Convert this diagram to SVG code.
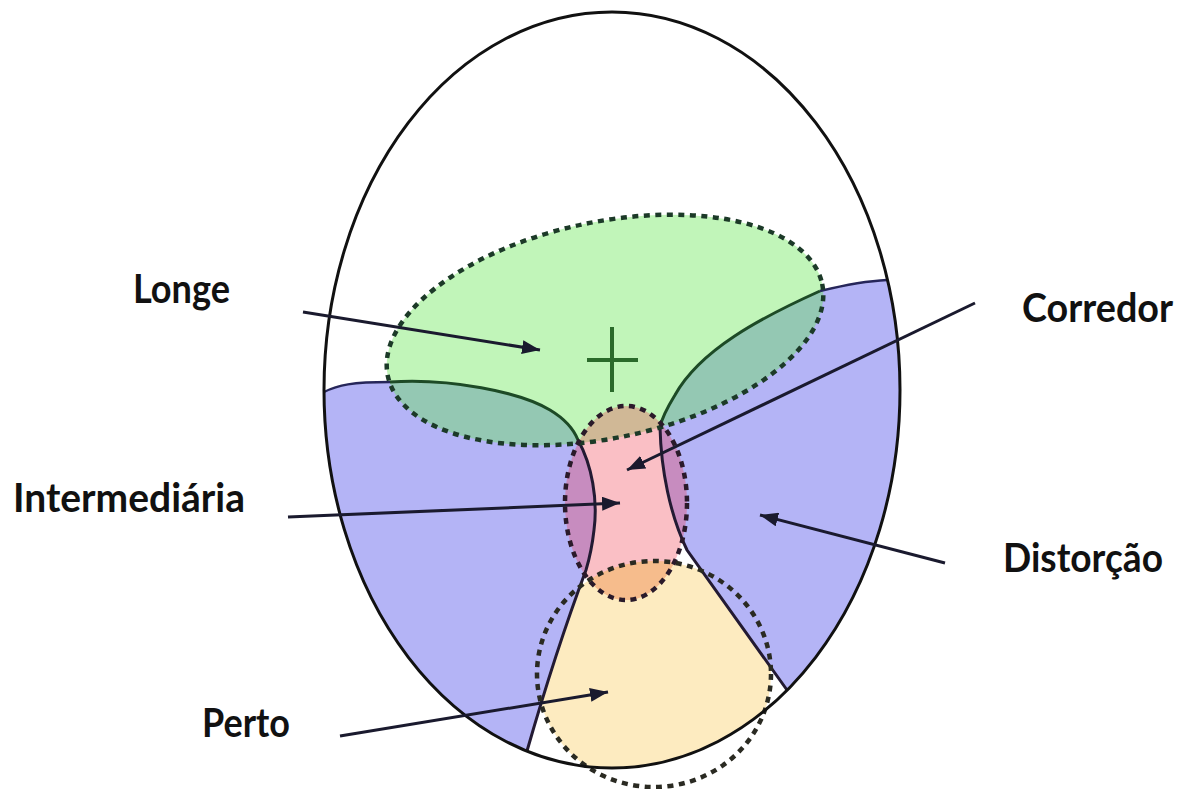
<svg xmlns="http://www.w3.org/2000/svg" width="1183" height="789" viewBox="0 0 1183 789">
<style>
.blue{fill:#b4b4f6}
.green{fill:#64e650;fill-opacity:0.4}
.pink{fill:#f03c50;fill-opacity:0.33}
.yellow{fill:#fdebc0}
.orange{fill:#f6bc8c}
.edge{fill:none;stroke:#26265a;stroke-width:2.5}
.gcurve{fill:none;stroke:#1d4a26;stroke-width:3}
.cline{fill:none;stroke:#231a33;stroke-width:3}
.dash{fill:none;stroke-width:4.5;stroke-dasharray:6 5.5}
.outer{fill:none;stroke:#111;stroke-width:3}
.arrow{fill:none;stroke:#1a1a2e;stroke-width:3;marker-end:url(#ah)}
.lbl{font-family:Lato,"Liberation Sans",sans-serif;font-weight:bold;font-size:40px;fill:#111}
</style>
<defs>
<marker id="ah" markerUnits="userSpaceOnUse" markerWidth="20" markerHeight="14" refX="18" refY="7" orient="auto">
<path d="M0,0 L18,7 L0,14 Z" fill="#1a1a2e"/>
</marker>
<clipPath id="midclip">
<path d="M595,540 L592,548 L586,570 Q556,650 527,751 A288 378 0 0 0 787,690 L687,550 L684,540 Z"/>
</clipPath>
<clipPath id="circclip">
<ellipse cx="654" cy="674" rx="117" ry="113"/>
</clipPath>
</defs>
<rect width="1183" height="789" fill="#fff"/>
<g id="fills">
<ellipse cx="612" cy="390" rx="288" ry="378" fill="#fff"/>
<g id="distorcao">
<path class="blue" d="M324,392 C338,385 352,382 390,382 C450,378 520,392 550,410 C565,419 574,430 578,440 C592,465 598,500 594,530 C592,548 589,560 586,570 Q556,650 527,751 A288 378 0 0 1 324,392 Z"/>
<path class="blue" d="M887,280 C865,281 845,285 820,291 C760,318 700,350 675,395 C667,408 662,418 660,427 C661,470 670,515 687,550 L787,690 A288 378 0 0 0 887,280 Z"/>
</g>
<g id="perto">
<ellipse class="yellow" cx="654" cy="674" rx="117" ry="113" clip-path="url(#midclip)"/>
</g>
<g id="longe">
<ellipse class="green" cx="605" cy="330" rx="222" ry="108" transform="rotate(-12 605 330)"/>
</g>
<g id="corredor">
<ellipse class="pink" cx="626" cy="503" rx="61" ry="97"/>
<g clip-path="url(#midclip)">
<ellipse class="orange" cx="626" cy="503" rx="61" ry="97" clip-path="url(#circclip)"/>
</g>
</g>
</g>
<g id="boundaries">
<path class="edge" d="M324,392 C338,385 352,382 390,382"/>
<path class="edge" d="M887,280 C865,281 845,285 820,291"/>
<path class="gcurve" d="M390,382 C450,378 520,392 550,410 C565,419 574,430 578,440"/>
<path class="gcurve" d="M820,291 C760,318 700,350 675,395 C667,408 662,418 660,427"/>
<path class="cline" d="M578,440 C592,465 598,500 594,530 C592,548 589,560 586,570 Q556,650 527,751"/>
<path class="cline" d="M660,427 C661,470 670,515 687,550 L787,690"/>
</g>
<g id="dashed">
<ellipse class="dash" stroke="#1c3a28" cx="605" cy="330" rx="222" ry="108" transform="rotate(-12 605 330)"/>
<ellipse class="dash" stroke="#2a1a2a" cx="626" cy="503" rx="61" ry="97"/>
<ellipse class="dash" stroke="#2a2a22" cx="654" cy="674" rx="117" ry="113"/>
</g>
<g id="lens">
<ellipse class="outer" cx="612" cy="390" rx="288" ry="378"/>
</g>
<g id="center-mark" stroke="#2a6a2a" stroke-width="4">
<line x1="612" y1="327" x2="612" y2="392"/>
<line x1="587" y1="360" x2="638" y2="360"/>
</g>
<g id="connectors">
<line class="arrow" x1="303" y1="312" x2="540" y2="350"/>
<line class="arrow" x1="288" y1="517" x2="620" y2="503"/>
<line class="arrow" x1="975" y1="303" x2="627" y2="470"/>
<line class="arrow" x1="945" y1="563" x2="760" y2="515"/>
<line class="arrow" x1="340" y1="736" x2="608" y2="692"/>
</g>
<g id="labels">
<text class="lbl" x="133" y="303" textLength="97" lengthAdjust="spacingAndGlyphs">Longe</text>
<text class="lbl" x="13" y="512" textLength="232" lengthAdjust="spacingAndGlyphs">Intermediária</text>
<text class="lbl" x="202" y="737" textLength="88" lengthAdjust="spacingAndGlyphs">Perto</text>
<text class="lbl" x="1022" y="322" textLength="151" lengthAdjust="spacingAndGlyphs">Corredor</text>
<text class="lbl" x="1003" y="572" textLength="160" lengthAdjust="spacingAndGlyphs">Distorção</text>
</g>
</svg>
